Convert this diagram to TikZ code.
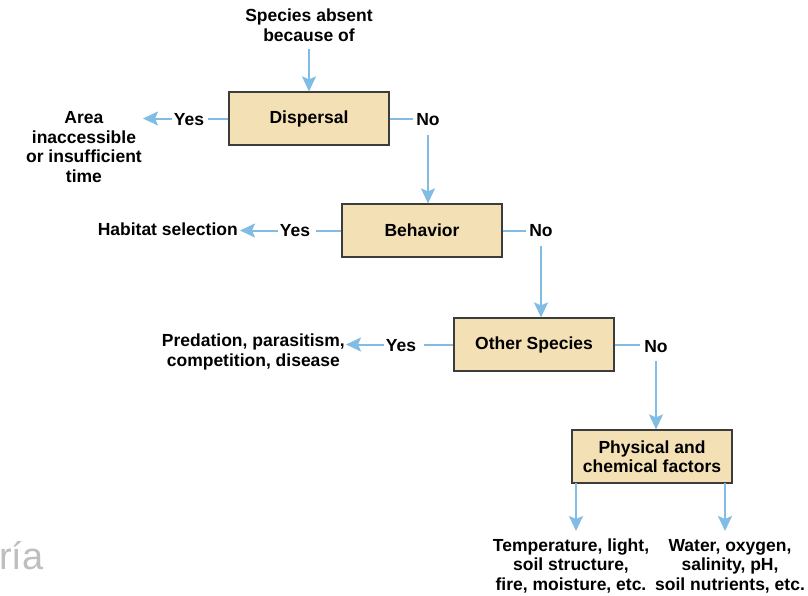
\documentclass[tikz,border=0pt]{standalone}
\usepackage{fontspec}
\setmainfont{Liberation Sans}
\usetikzlibrary{arrows.meta}
\definecolor{boxfill}{RGB}{243,224,181}
\definecolor{boxline}{RGB}{60,60,60}
\definecolor{arrowblue}{RGB}{128,188,228}
\definecolor{wmgray}{RGB}{190,190,190}
\tikzset{
  box/.style={draw=boxline, line width=1.2pt, fill=boxfill, minimum width=160pt, minimum height=53pt, inner sep=0pt, align=center, font=\fontsize{17.5}{19.5}\selectfont\bfseries},
  lbl/.style={inner sep=0pt, align=center, font=\fontsize{17.5}{19.5}\selectfont\bfseries},
  yn/.style={inner sep=0pt, font=\fontsize{17.5}{19.5}\selectfont\bfseries},
  conn/.style={draw=arrowblue, line width=2pt},
  arr/.style={conn, -{Stealth[length=15pt, width=14pt, inset=3pt]}},
}
\begin{document}
\begin{tikzpicture}[x=1pt, y=-1pt]
\useasboundingbox (0,0) rectangle (808,595);
\node[anchor=base west, inner sep=0pt, text=wmgray, font=\fontsize{38}{40}\selectfont] (wm) at (-1,569) {ría};

\node[lbl] (start) at (309,25) {Species absent\\because of};
\node[box] (disp) at (309,118.5) {\raisebox{-1pt}{Dispersal}};
\node[box] (beh) at (422,230.5) {Behavior};
\node[box] (oth) at (534,344.5) {\raisebox{-1pt}{Other Species}};
\node[box] (phys) at (652,456.5) {Physical and\\chemical factors};

\node[yn] (y1) at (189,119.5) {Yes};
\node[yn] (n1) at (428,120) {No};
\node[yn] (y2) at (295,231) {Yes};
\node[yn] (n2) at (541,231) {No};
\node[yn] (y3) at (401,346) {Yes};
\node[yn] (n3) at (656,346.5) {No};

\node[lbl, anchor=east] (area) at (142,147) {Area\\inaccessible\\or insufficient\\time};
\node[lbl, anchor=east] (hab) at (238,229) {Habitat selection};
\node[lbl, anchor=east] (pred) at (345,352) {Predation, parasitism,\\competition, disease};
\node[lbl] (temp) at (571,566) {Temperature, light,\\soil structure,\\fire, moisture, etc.};
\node[lbl] (water) at (730,566) {Water, oxygen,\\salinity, pH,\\soil nutrients, etc.};

\coordinate (s0) at (309,49);
\draw[arr] (s0) -- (disp.north);

\draw[conn] (disp.west) -- ([xshift=4pt]y1.east |- disp.west);
\draw[arr] ([xshift=-2pt]y1.west |- disp.west) -- ([xshift=1pt]area.east |- disp.west);
\draw[conn] (disp.east) -- ([xshift=-3pt]n1.west |- disp.east);
\coordinate (n1b) at (428,135);
\draw[arr] (n1b) -- (n1b |- beh.north);

\draw[conn] (beh.west) -- ([xshift=6pt]y2.east |- beh.west);
\draw[arr] ([xshift=-2pt]y2.west |- beh.west) -- ([xshift=2pt]hab.east |- beh.west);
\draw[conn] (beh.east) -- ([xshift=-3pt]n2.west |- beh.east);
\coordinate (n2b) at (541,246);
\draw[arr] (n2b) -- (n2b |- oth.north);

\draw[conn] (oth.west) -- ([xshift=8pt]y3.east |- oth.west);
\draw[arr] ([xshift=-2pt]y3.west |- oth.west) -- ([xshift=1pt]pred.east |- oth.west);
\draw[conn] (oth.east) -- ([xshift=-4pt]n3.west |- oth.east);
\coordinate (n3b) at (656,361);
\draw[arr] (n3b) -- (n3b |- phys.north);

\coordinate (p1) at (576,483);
\coordinate (p2) at (725,483);
\coordinate (t1) at (576,531);
\coordinate (t2) at (725,531);
\draw[arr] (p1) -- (t1);
\draw[arr] (p2) -- (t2);
\end{tikzpicture}
\end{document}
